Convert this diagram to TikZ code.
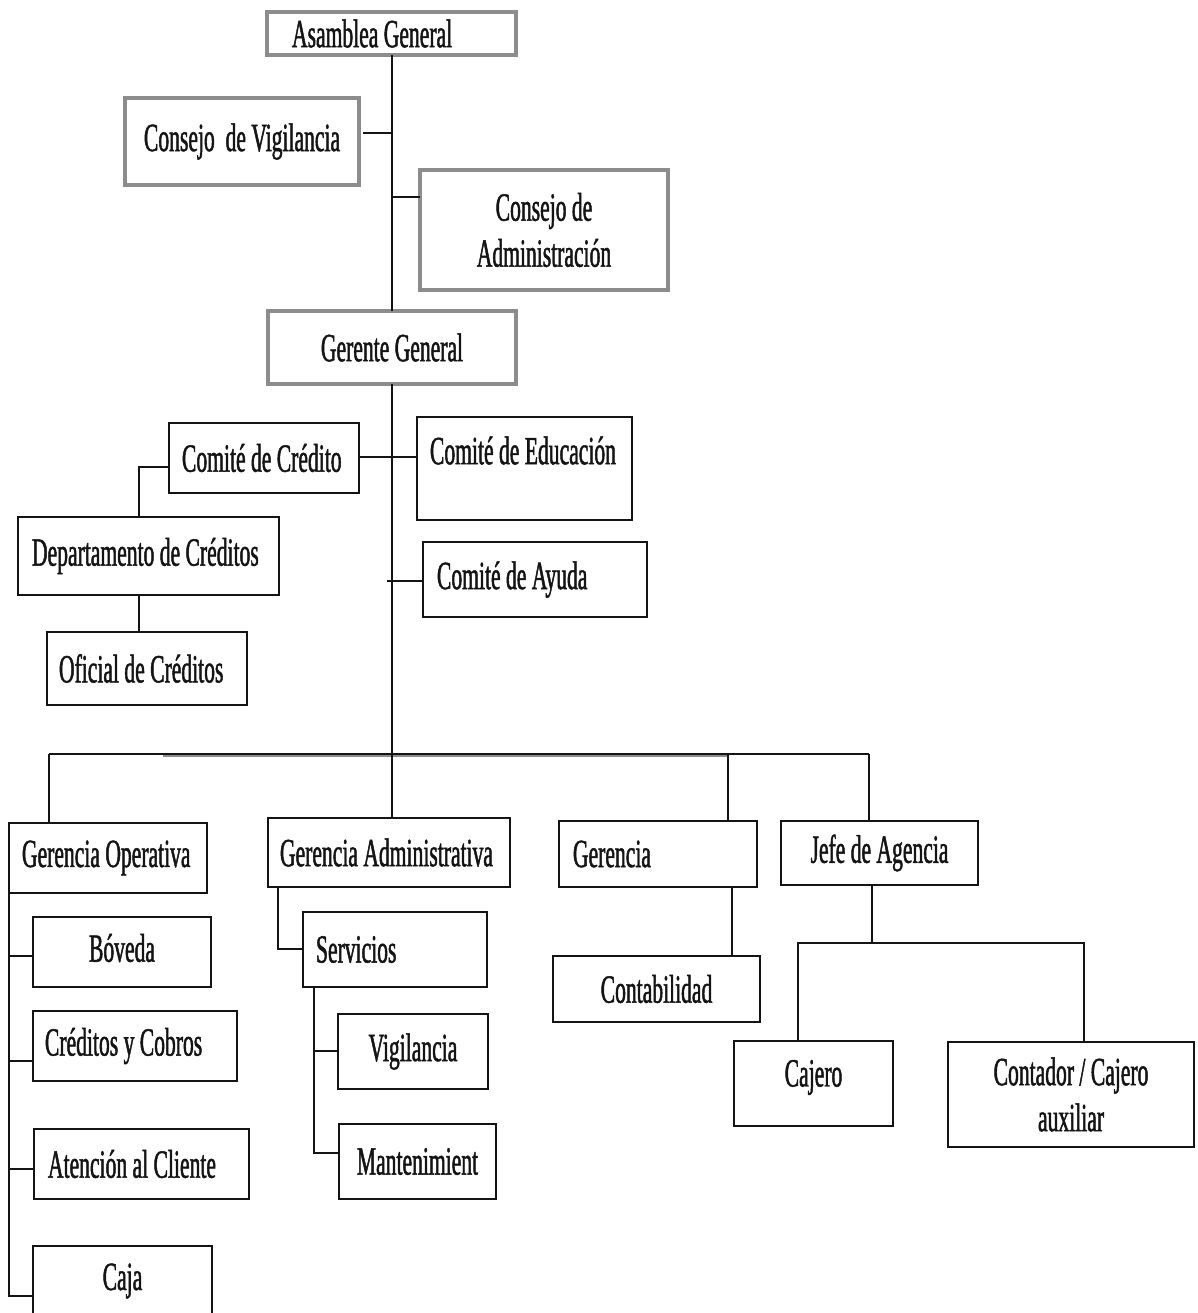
\documentclass[tikz,border=0pt]{standalone}
\usepackage{fontspec}
\setmainfont{Liberation Serif}[FakeStretch=0.54, FakeBold=1.2]
\definecolor{boxgray}{RGB}{140,140,140}
\definecolor{ink}{RGB}{20,20,20}
\newcommand\orgfont{\fontsize{40pt}{46pt}\selectfont}
% raise a text without changing its box
\newcommand\up[2]{\raisebox{#1}[\height][\depth]{#2}}
% box with centred text: style, name, x1, y1, x2, y2, text
\newcommand\orgbox[7]{%
  \node[#1, anchor=north west, align=center,
        minimum width={(#5-#3)*1pt}, minimum height={(#6-#4)*1pt}]
        (#2) at (#3,#4) {#7};}
% box with left aligned text: style, name, x1, y1, x2, y2, padding, text
\newcommand\orgboxL[8]{%
  \node[#1, anchor=north west, inner xsep=#7pt,
        minimum width={(#5-#3)*1pt}, minimum height={(#6-#4)*1pt}]
        (#2) at (#3,#4) {\makebox[\dimexpr #5pt-#3pt-#7pt*2\relax][l]{#8}};}
\tikzset{
  base/.style={rectangle, outer sep=0pt, inner ysep=0pt, font=\orgfont, text=ink},
  G/.style={base, draw=boxgray, line width=4.5pt},
  B/.style={base, draw=ink, line width=2.4pt},
  wire/.style={draw=ink, line width=2pt},
  busshade/.style={draw=boxgray, line width=2pt},
}
\begin{document}
\begin{tikzpicture}[x=1pt, y=-1pt]
\useasboundingbox (0,0) rectangle (1197,1313);
\clip (0,0) rectangle (1197,1313);

% governing bodies
\orgboxL{G}{asam}{267}{12}{516}{55}{25}{Asamblea General}
\orgbox{G}{vig}{125}{98}{359}{185}{Consejo\ \ de Vigilancia}
\orgbox{G}{adm}{420}{170}{668}{290}{Consejo de\\Administración}
\orgbox{G}{ger}{268}{311}{516}{384}{Gerente General}

% committees
\orgboxL{B}{ccred}{169}{423}{359}{493}{13}{Comité de Crédito}
\orgboxL{B}{cedu}{417}{417}{632}{520}{13}{\up{18pt}{Comité de Educación}}
\orgboxL{B}{dep}{18}{517}{279}{595}{14}{Departamento de Créditos}
\orgboxL{B}{ofi}{47}{632}{247}{705}{12}{Oficial de Créditos}
\orgboxL{B}{cayu}{423}{542}{647}{617}{14}{Comité de Ayuda}

% management level
\orgboxL{B}{gop}{9}{823}{207}{893}{13}{Gerencia Operativa}
\orgboxL{B}{gadm}{268}{818}{510}{887}{12}{Gerencia Administrativa}
\orgboxL{B}{gcia}{559}{821}{757}{887}{14}{Gerencia}
\orgbox{B}{jefe}{781}{821}{978}{885}{Jefe de Agencia}

% units
\orgbox{B}{cont}{553}{956}{760}{1022}{Contabilidad}
\orgbox{B}{caje}{734}{1041}{893}{1126}{\up{6pt}{Cajero}}
\orgbox{B}{ctdr}{948}{1042}{1194}{1147}{Contador / Cajero\\auxiliar}
\orgbox{B}{bov}{33}{917}{211}{987}{\up{4pt}{Bóveda}}
\orgboxL{B}{cyc}{33}{1011}{237}{1081}{12}{Créditos y Cobros}
\orgboxL{B}{aten}{34}{1129}{249}{1199}{14}{Atención al Cliente}
\orgbox{B}{caja}{33}{1246}{212}{1316}{Caja}
\orgboxL{B}{serv}{303}{912}{487}{987}{13}{Servicios}
\orgbox{B}{vigi}{338}{1014}{488}{1089}{Vigilancia}
\orgbox{B}{mant}{339}{1124}{496}{1199}{Mantenimient}

% junction points
\coordinate (jv) at (392,133);
\coordinate (ja) at (392,197);
\coordinate (jc) at (392,457);
\coordinate (jd) at (139,467);
\coordinate (jy) at (387,581);
\coordinate (busL) at (49,754);
\coordinate (busR) at (869,754);
\coordinate (bg) at (728,754);
\coordinate (bs1) at (163,756);
\coordinate (bs2) at (729,756);
\coordinate (g1) at (9,956);
\coordinate (g2) at (9,1061);
\coordinate (g3) at (9,1169);
\coordinate (gk) at (9,1296);
\coordinate (sa) at (278,949);
\coordinate (s1) at (314,1051);
\coordinate (s2) at (314,1153);
\coordinate (gc) at (732,887);
\coordinate (jb) at (872,943);
\coordinate (jl) at (798,943);
\coordinate (jr) at (1084,943);

% main spine
\draw[wire] (asam.south) -- (asam.south |- ger.north);
\draw[wire] (ger.south) -- (ger.south |- busL);
\draw[wire, shorten >=4pt] (jv) -- (jv -| vig.east);
\draw[wire] (ja) -- (ja -| adm.west);

% committees
\draw[wire] (ccred.east |- jc) -- (cedu.west |- jc);
\draw[wire] (ccred.west |- jd) -- (jd) -- (jd |- dep.north);
\draw[wire] (jd |- dep.south) -- (jd |- ofi.north);
\draw[wire] (jy) -- (jy -| cayu.west);

% horizontal bus and drops
\draw[busshade] (bs1) -- (bs2);
\draw[wire] (busL) -- (busR);
\draw[wire] (busL) -- (busL |- gop.north);
\draw[wire] (ger.south |- busL) -- (ger.south |- gadm.north);
\draw[wire] (bg) -- (bg |- gcia.north);
\draw[wire] (busR) -- (busR |- jefe.north);

% Gerencia Operativa
\draw[wire] (gop.south west) -- (gk) -- (gk -| caja.west);
\draw[wire] (g1) -- (g1 -| bov.west);
\draw[wire] (g2) -- (g2 -| cyc.west);
\draw[wire] (g3) -- (g3 -| aten.west);

% Gerencia Administrativa
\draw[wire] (sa |- gadm.south) -- (sa) -- (sa -| serv.west);
\draw[wire] (s1 |- serv.south) -- (s2) -- (s2 -| mant.west);
\draw[wire] (s1) -- (s1 -| vigi.west);

% Gerencia
\draw[wire] (gc) -- (gc |- cont.north);

% Jefe de Agencia
\draw[wire] (jb |- jefe.south) -- (jb);
\draw[wire] (jl |- caje.north) -- (jl) -- (jr) -- (jr |- ctdr.north);
\end{tikzpicture}
\end{document}
